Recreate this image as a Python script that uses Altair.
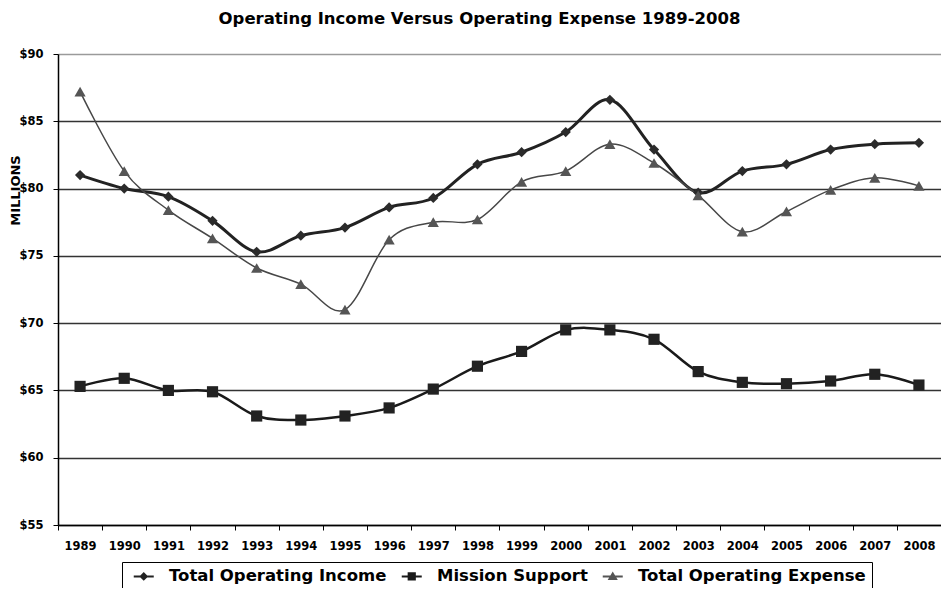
import altair as alt
import pandas as pd

years = ["1989", "1990", "1991", "1992", "1993", "1994", "1995", "1996", "1997", "1998",
         "1999", "2000", "2001", "2002", "2003", "2004", "2005", "2006", "2007", "2008"]
income = [81.0, 80.0, 79.4, 77.6, 75.3, 76.5, 77.1, 78.6, 79.3, 81.8,
          82.7, 84.2, 86.6, 82.9, 79.7, 81.3, 81.8, 82.9, 83.3, 83.4]
mission = [65.3, 65.9, 65.0, 64.9, 63.1, 62.8, 63.1, 63.7, 65.1, 66.8,
           67.9, 69.5, 69.5, 68.8, 66.4, 65.6, 65.5, 65.7, 66.2, 65.4]
expense = [87.2, 81.3, 78.4, 76.3, 74.1, 72.9, 71.0, 76.2, 77.5, 77.7,
           80.5, 81.3, 83.3, 81.9, 79.5, 76.8, 78.3, 79.9, 80.8, 80.2]
series_names = ["Total Operating Income", "Mission Support", "Total Operating Expense"]
y_ticks = [55, 60, 65, 70, 75, 80, 85, 90]

rows = []
for name, vals in zip(series_names, [income, mission, expense]):
    for yr, v in zip(years, vals):
        rows.append({"year": yr, "value": v, "series": name})
df = pd.DataFrame(rows)

FONT = "DejaVu Sans"

x_enc = alt.X(
    "year:O", sort=years, title=None,
    scale=alt.Scale(type="band", domain=years, paddingInner=0, paddingOuter=0),
    axis=alt.Axis(labelAngle=0, labelFont=FONT, labelFontSize=11.5, labelFontWeight="bold",
                  labelColor="black", tickBand="extent", tickSize=5, tickColor="black",
                  domainColor="black", domainWidth=1.5, labelPadding=10, grid=False),
)
y_enc = alt.Y(
    "value:Q",
    scale=alt.Scale(domain=[55, 90], nice=False, zero=False),
    axis=alt.Axis(values=y_ticks, labelExpr="'$' + datum.value", labelFont=FONT,
                  labelFontSize=11.5, labelFontWeight="bold", labelColor="black",
                  tickSize=5, tickColor="black", domainColor="black", domainWidth=1.5,
                  labelPadding=10, grid=True,
                  gridColor={"condition": {"test": "datum.value === 90", "value": "#9a9a9a"},
                             "value": "#333333"},
                  gridWidth=1.3,
                  title="MILLIONS", titleFont=FONT, titleFontSize=13, titleFontWeight="bold",
                  titleColor="black", titleAngle=270, titleX=-43, titleY=136,
                  titleAlign="center", titleBaseline="middle"),
)

base = alt.Chart(df).encode(x=x_enc, y=y_enc)

def sub(name):
    return base.transform_filter(alt.datum.series == name)

income_line = sub(series_names[0]).mark_line(interpolate="cardinal", color="#222222", strokeWidth=3)
income_pts = sub(series_names[0]).mark_point(shape="diamond", filled=True, size=105,
                                             color="#2b2b2b", opacity=1)
mission_line = sub(series_names[1]).mark_line(interpolate="cardinal", color="#1a1a1a", strokeWidth=2.5)
mission_pts = sub(series_names[1]).mark_point(shape="square", filled=True, size=125,
                                              color="#222222", opacity=1)
expense_line = sub(series_names[2]).mark_line(interpolate="cardinal", color="#474747", strokeWidth=1.5)
expense_pts = sub(series_names[2]).mark_point(shape="triangle-up", filled=True, size=125,
                                              color="#555555", opacity=1)

legend_shapes = [
    "M-2,0L2,0M0,-0.6L0.6,0L0,0.6L-0.6,0Z",
    "M-2,0L2,0M-0.62,-0.62L0.62,-0.62L0.62,0.62L-0.62,0.62Z",
    "M-2,0L2,0M0,-0.58L0.66,0.52L-0.66,0.52Z",
]
legend_colors = ["#222222", "#1a1a1a", "#555555"]
leg = alt.Legend(title=None, orient="none", legendX=64, legendY=508, direction="horizontal",
                 strokeColor="black", fillColor="white", padding=6, columnPadding=9,
                 labelFont=FONT, labelFontSize=16.5, labelFontWeight="bold", labelColor="black",
                 symbolOffset=7.5, labelOffset=17, symbolStrokeWidth=2, labelLimit=400)

legend_layer = alt.Chart(df).transform_filter("false").mark_point(
    filled=True, size=289, opacity=1, strokeWidth=2
).encode(
    shape=alt.Shape("series:N", scale=alt.Scale(domain=series_names, range=legend_shapes), legend=leg),
    fill=alt.Fill("series:N", scale=alt.Scale(domain=series_names, range=legend_colors), legend=leg),
    stroke=alt.Stroke("series:N", scale=alt.Scale(domain=series_names, range=legend_colors), legend=leg),
)

chart = alt.layer(
    income_line, mission_line, expense_line, income_pts, mission_pts, expense_pts, legend_layer
).properties(
    width=883, height=471,
    title=alt.TitleParams("Operating Income Versus Operating Expense 1989-2008", font=FONT,
                          fontSize=16.5, fontWeight="bold", color="black", anchor="middle",
                          dx=-20, offset=21),
    padding={"left": 50, "top": 46, "right": 0, "bottom": 63},
    autosize="none",
).configure_view(stroke="#8a8a8a", strokeWidth=1).configure(background="white")

chart.save("out.html", embed_options={"renderer": "svg", "actions": False})
